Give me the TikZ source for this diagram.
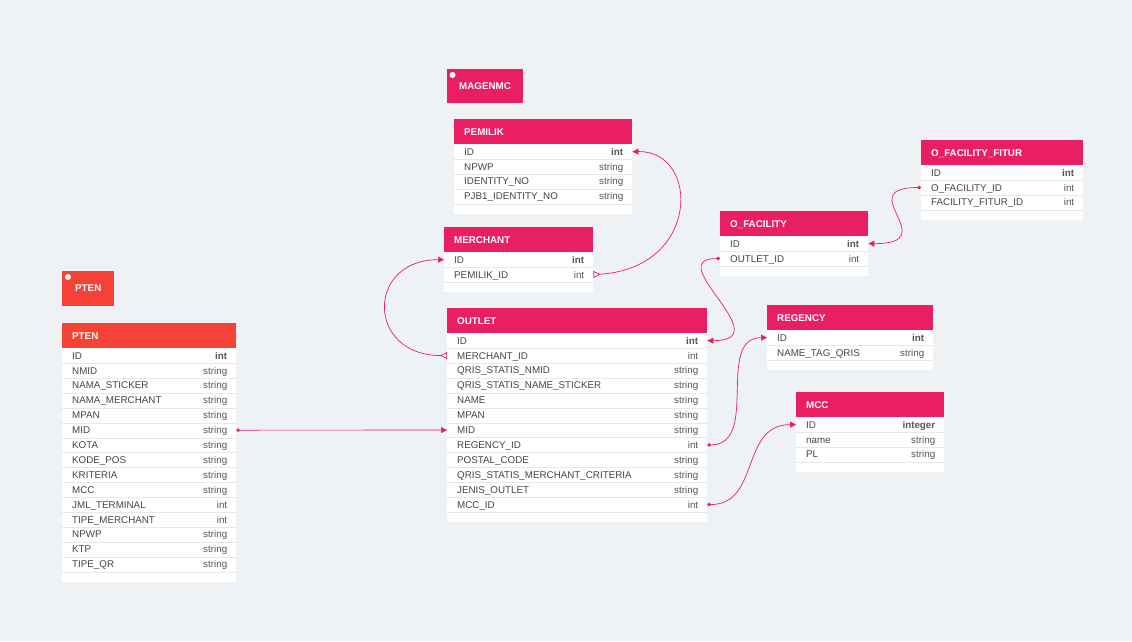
\documentclass[tikz,border=0pt]{standalone}
\usepackage{fontspec}
\setmainfont{Liberation Sans}
\usetikzlibrary{arrows.meta}
\definecolor{bg}{HTML}{EEF2F5}
\definecolor{pink}{HTML}{E91E63}
\definecolor{ptenred}{HTML}{F44336}
\definecolor{sepgray}{HTML}{E8E8E8}
\definecolor{txt}{HTML}{444444}
\definecolor{typetxt}{HTML}{555555}

\newcommand{\ERtable}[7]{%
  % #1 id, #2 left, #3 top, #4 width, #5 title, #6 colour, #7 rows
  \node[hdr, fill=#6, minimum width=#4pt, anchor=north west] (#1) at (#2,#3) {};
  \node[hdrtext, anchor=west] (#1-title) at ([xshift=10pt]#1.west) {#5};
  \foreach \rn/\rt [count=\i] in {#7} {
    \node[rowbox, minimum width=#4pt, anchor=north west] (#1-r\i) at (#2,{#3+25+(\i-1)*14.9}) {};
    \xdef\ERlast{\i}
  }
  \node[rowbox, minimum width=#4pt, minimum height=10pt, anchor=north west] (#1-foot) at (#1-r\ERlast.south west) {};
  \foreach \rn/\rt [count=\i] in {#7} {
    \draw[sep] (#1-r\i.south west) -- (#1-r\i.south east);
    \node[namet] (#1-n\i) at ([xshift=10pt]#1-r\i.west) {\rn};
    \node[typet] (#1-t\i) at ([xshift=-9pt]#1-r\i.east) {\rt};
  }
}

\begin{document}
\begin{tikzpicture}[x=1pt,y=-1pt,
  hdr/.style={rectangle, inner sep=0, minimum height=25pt},
  hdrtext/.style={text=white, font=\bfseries\fontsize{9.8}{11}\selectfont, inner sep=0, text height=7pt, text depth=0pt},
  rowbox/.style={rectangle, fill=white, inner sep=0, minimum height=14.9pt},
  sep/.style={draw=sepgray, line width=0.6pt},
  namet/.style={anchor=west, inner sep=0, text=txt, font=\fontsize{9.8}{11}\selectfont, text height=7pt, text depth=0pt},
  typet/.style={anchor=east, inner sep=0, text=typetxt, font=\fontsize{9.8}{11}\selectfont, text height=7pt, text depth=0pt},
  lbl/.style={rectangle, inner sep=0},
  lbldot/.style={circle, fill=white, inner sep=0, minimum size=6pt},
  lbltext/.style={anchor=west, inner sep=0, text=white, font=\bfseries\fontsize{9.8}{11}\selectfont, text height=7pt, text depth=0pt},
  conn/.style={draw=pink, line width=0.7pt},
  manyone/.style={{Triangle[open,reversed,length=7pt,width=7pt]}-{Triangle[length=6pt,width=6pt]}},
  oneone/.style={{Circle[length=3.6pt]}-{Triangle[length=6pt,width=6pt]}}
]
\fill[bg] (0,0) rectangle (1132,641);
\useasboundingbox (0,0) rectangle (1132,641);

% label boxes
\node[lbl, fill=pink, minimum width=76pt, minimum height=34pt, anchor=north west] (magenmc) at (447,69) {};
\node[lbldot] (magenmc-dot) at (452.5,75) {};
\node[lbltext] (magenmc-text) at (459,86) {MAGENMC};

\node[lbl, fill=ptenred, minimum width=52pt, minimum height=35pt, anchor=north west] (ptenlbl) at (62,271) {};
\node[lbldot] (ptenlbl-dot) at (68,277) {};
\node[lbltext] (ptenlbl-text) at (75,288) {PTEN};

% tables
\ERtable{pemilik}{454}{119}{178}{PEMILIK}{pink}{ID/\textbf{int}, NPWP/string, IDENTITY\_NO/string, PJB1\_IDENTITY\_NO/string}
\ERtable{merchant}{444}{227}{149}{MERCHANT}{pink}{ID/\textbf{int}, PEMILIK\_ID/int}
\ERtable{ofac}{720}{211}{148}{O\_FACILITY}{pink}{ID/\textbf{int}, OUTLET\_ID/int}
\ERtable{ffitur}{921}{140}{162}{O\_FACILITY\_FITUR}{pink}{ID/\textbf{int}, O\_FACILITY\_ID/int, FACILITY\_FITUR\_ID/int}
\ERtable{pten}{62}{323}{174}{PTEN}{ptenred}{ID/\textbf{int}, NMID/string, NAMA\_STICKER/string, NAMA\_MERCHANT/string, MPAN/string, MID/string, KOTA/string, KODE\_POS/string, KRITERIA/string, MCC/string, JML\_TERMINAL/int, TIPE\_MERCHANT/int, NPWP/string, KTP/string, TIPE\_QR/string}
\ERtable{outlet}{447}{308}{260}{OUTLET}{pink}{ID/\textbf{int}, MERCHANT\_ID/int, QRIS\_STATIS\_NMID/string, QRIS\_STATIS\_NAME\_STICKER/string, NAME/string, MPAN/string, MID/string, REGENCY\_ID/int, POSTAL\_CODE/string, QRIS\_STATIS\_MERCHANT\_CRITERIA/string, JENIS\_OUTLET/string, MCC\_ID/int}
\ERtable{regency}{767}{305}{166}{REGENCY}{pink}{ID/\textbf{int}, NAME\_TAG\_QRIS/string}
\ERtable{mcc}{796}{392}{148}{MCC}{pink}{ID/\textbf{integer}, name/string, PL/string}

% connectors
\draw[conn, manyone] (merchant-r2.east) .. controls +(107,-6) and +(68,-1) .. (pemilik-r1.east);
\draw[conn, manyone] (outlet-r2.west) .. controls +(-81,0) and +(-78,0) .. (merchant-r1.west);
\draw[conn, oneone] (pten-r6.east) -- (outlet-r7.west);
\draw[conn, oneone] (ofac-r2.west) .. controls +(-60,0) and +(73,0) .. (outlet-r1.east);
\draw[conn, oneone] (ffitur-r2.west) .. controls +(-71,0) and +(77,0) .. (ofac-r1.east);
\draw[conn, oneone] (outlet-r8.east) .. controls +(53,0) and +(-52,0) .. (regency-r1.west);
\draw[conn, oneone] (outlet-r12.east) .. controls +(53,0) and +(-56,0) .. (mcc-r1.west);
\end{tikzpicture}
\end{document}
